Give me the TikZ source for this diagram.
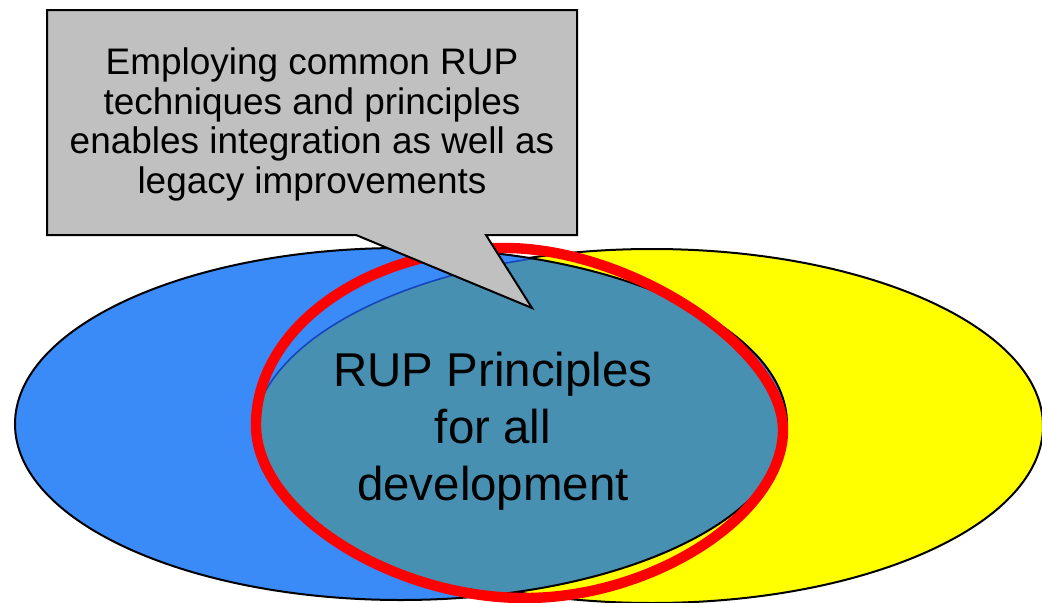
\documentclass[tikz,border=0pt]{standalone}
\usepackage{fontspec}
\setmainfont{Liberation Sans}
\begin{document}
\begin{tikzpicture}[x=0.75pt,y=0.75pt,yscale=-1,xscale=1,
  outline/.style={draw={rgb, 255:red, 0; green, 0; blue, 0 }, line width=1.5},
  bluefill/.style={fill={rgb, 255:red, 58; green, 138; blue, 248 }},
  mixfill/.style={fill={rgb, 255:red, 72; green, 144; blue, 178 }}]
\useasboundingbox (0,0) rectangle (1042,603);

%Shape: Ellipse (yellow, behind)
\draw [outline, fill={rgb, 255:red, 255; green, 255; blue, 0 }] (652,426) ellipse [x radius=391, y radius=177];
%Shape: Ellipse (blue)
\fill [bluefill] (401,424) ellipse [x radius=386, y radius=176];

%Shape: Closed Curve (red ring, kept for reuse)
\path [save path=\ringpath] (256,425) .. controls (256,327) and (368,248) .. (505,248) .. controls (630,248) and (783,348) .. (783,430) .. controls (783,514) and (654,598) .. (525,598) .. controls (391,598) and (256,512) .. (256,425) -- cycle;

%shared part inside the red ring
\begin{scope}
\clip (401,424) ellipse [x radius=386, y radius=176];
\clip [use path=\ringpath];
\fill [mixfill] (652,440) ellipse [x radius=400, y radius=190];
\draw [draw={rgb, 255:red, 20; green, 70; blue, 190 }, line width=1.2] (652,440) ellipse [x radius=400, y radius=190];
\end{scope}
\draw [outline] (401,424) ellipse [x radius=386, y radius=176];

%Shape: Ellipse (red ring)
\draw [use path=\ringpath, draw={rgb, 255:red, 255; green, 0; blue, 0 }, line width=7.8];

%Shape: Callout
\draw [outline, fill={rgb, 255:red, 192; green, 192; blue, 192 }] (47,10) -- (577,10) -- (577,235) -- (486,235) -- (532,308) -- (356,235) -- (47,235) -- cycle;

% Text Node
\node (note) at (312,124.5) [align=center, font=\fontsize{27.7}{29.8}\selectfont] {Employing common RUP\\techniques and principles\\enables integration as well as\\legacy improvements};
% Text Node
\node (core) at (493,431) [align=center, font=\fontsize{35.6}{42.8}\selectfont] {RUP Principles\\for all\\development};

\end{tikzpicture}
\end{document}
